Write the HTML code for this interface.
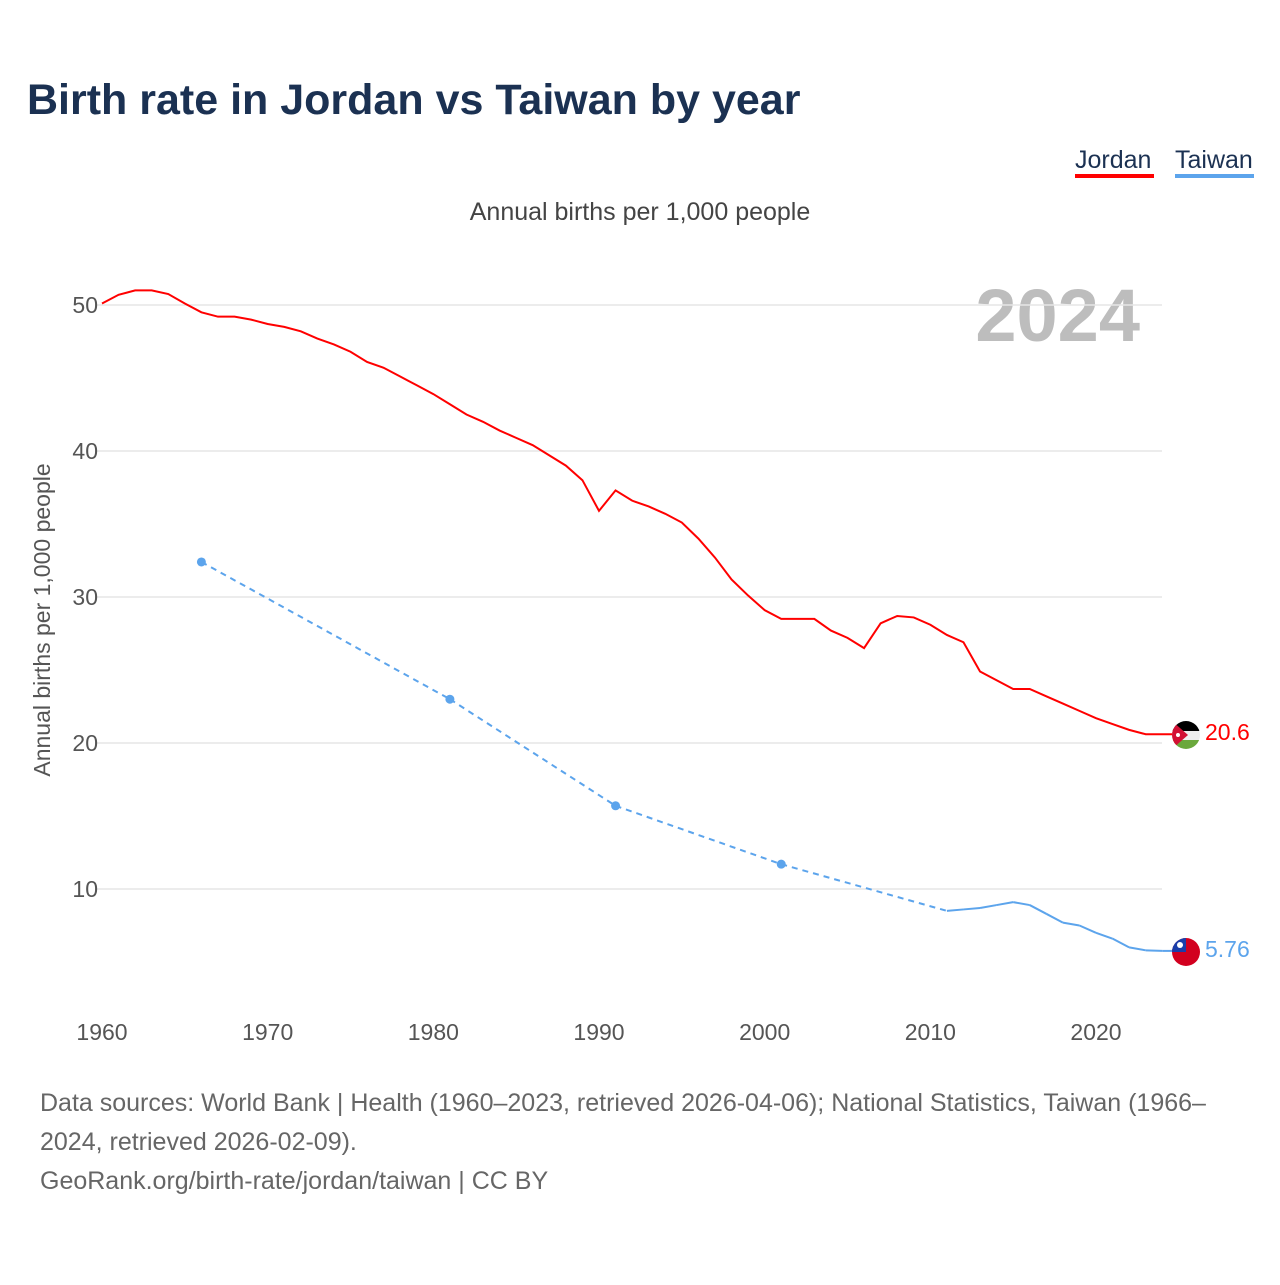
<!DOCTYPE html>
<html><head><meta charset="utf-8"><style>
body{margin:0;background:#fff;font-family:"Liberation Sans",sans-serif;}
#wrap{position:relative;width:1280px;height:1280px;}
</style></head><body>
<div id="wrap">
<svg id="svg" width="1280" height="1280">
<text x="27" y="114" font-size="43" font-weight="bold" fill="#1b3152">Birth rate in Jordan vs Taiwan by year</text>
<g><text x="1075" y="168" font-size="25" fill="#1b3152">Jordan</text><rect x="1075" y="174" width="79" height="4" fill="#ff0000"/></g>
<g><text x="1175" y="168" font-size="25" fill="#1b3152">Taiwan</text><rect x="1175" y="174" width="79" height="4" fill="#5ca4ec"/></g>
<text x="640" y="220" font-size="25" fill="#444" text-anchor="middle">Annual births per 1,000 people</text>
<text x="1140" y="341" font-size="74" font-weight="bold" fill="#bdbdbd" text-anchor="end">2024</text>
<text transform="translate(50,620) rotate(-90)" font-size="23" fill="#555" text-anchor="middle">Annual births per 1,000 people</text>
<g id="grid"></g><g id="marks"></g>
<g>
<clipPath id="cj"><circle cx="1186" cy="735" r="14"/></clipPath>
<g clip-path="url(#cj)"><rect x="1172" y="721" width="28" height="10" fill="#000"/><rect x="1172" y="731" width="28" height="9" fill="#eee"/><rect x="1172" y="740" width="28" height="10" fill="#6aa83c"/><polygon points="1172,721 1188,735 1172,749" fill="#d21034"/><circle cx="1178" cy="735" r="2" fill="#fff"/></g></g>
<g>
<clipPath id="ct"><circle cx="1186" cy="952" r="14"/></clipPath>
<g clip-path="url(#ct)"><rect x="1172" y="938" width="28" height="28" fill="#d2001f"/><rect x="1172" y="938" width="14" height="14" fill="#1a3eaa"/><circle cx="1180" cy="945" r="3" fill="#fff"/></g></g>
<text x="1205" y="740" font-size="23" fill="#ff0000">20.6</text>
<text x="1205" y="957" font-size="23" fill="#5ca4ec">5.76</text>
</svg>
<div style="position:absolute;left:40px;top:1084px;width:1200px;font-size:25px;line-height:39px;color:#666">Data sources: World Bank | Health (1960–2023, retrieved 2026-04-06); National Statistics, Taiwan (1966–2024, retrieved 2026-02-09).<br>GeoRank.org/birth-rate/jordan/taiwan | CC BY</div>
</div>
<script>
const jordanYears=[];for(let y=1960;y<=2023;y++)jordanYears.push(y);
const jordanValues=[50.1,50.7,51.0,51.0,50.75,50.1,49.5,49.2,49.2,49.0,48.7,48.5,48.2,47.7,47.3,46.8,46.1,45.7,45.1,44.5,43.9,43.2,42.5,42.0,41.4,40.9,40.4,39.7,39.0,38.0,35.9,37.3,36.6,36.2,35.7,35.1,34.0,32.7,31.2,30.1,29.1,28.5,28.5,28.5,27.7,27.2,26.5,28.2,28.7,28.6,28.1,27.4,26.9,24.9,24.3,23.7,23.7,23.2,22.7,22.2,21.7,21.3,20.9,20.6];
const taiwanYears=[1966,1981,1991,2001,2011,2012,2013,2014,2015,2016,2017,2018,2019,2020,2021,2022,2023,2024];
const taiwanValues=[32.4,23.0,15.7,11.7,8.5,8.6,8.7,8.9,9.1,8.9,8.3,7.7,7.5,7.0,6.6,6.0,5.8,5.76];
const xTicks=[1960,1970,1980,1990,2000,2010,2020];
const yTicks=[10,20,30,40,50];
const X=y=>102+(y-1960)*994/60;
const Y=v=>889-(v-10)*14.6;
const NS="http://www.w3.org/2000/svg";
const grid=document.getElementById('grid'),marks=document.getElementById('marks');
function mk(tag,attrs,parent){const e=document.createElementNS(NS,tag);for(const k in attrs)e.setAttribute(k,attrs[k]);parent.appendChild(e);return e;}
yTicks.forEach(t=>{
 const l=mk('line',{x1:95,x2:1162,y1:Y(t),y2:Y(t),stroke:'#e6e6e6','stroke-width':1.5},grid);
 
 
 const tx=mk('text',{x:98,y:Y(t)+8,'font-size':23,fill:'#555','text-anchor':'end'},grid);tx.textContent=t;
 
 
});
xTicks.forEach(t=>{
 const tx=mk('text',{x:X(t),y:1040,'font-size':23,fill:'#555','text-anchor':'middle'},grid);tx.textContent=t;
 
 
});
const jp=jordanYears.map((y,i)=>X(y)+','+Y(jordanValues[i])).join(' ');
const jl=mk('polyline',{points:jp+' '+1172+','+Y(jordanValues[jordanValues.length-1]),fill:'none',stroke:'#ff0000','stroke-width':2},marks);


for(let i=1;i<taiwanYears.length;i++){
 const gap=taiwanYears[i]-taiwanYears[i-1]>1;
 const s=mk('line',{x1:X(taiwanYears[i-1]),y1:Y(taiwanValues[i-1]),x2:X(taiwanYears[i]),y2:Y(taiwanValues[i]),stroke:'#5ca4ec','stroke-width':2},marks);
 if(gap)s.setAttribute('stroke-dasharray','6,5');
 
 
}
for(let i=0;i<taiwanYears.length;i++){
 const sparse=(i<taiwanYears.length-1&&taiwanYears[i+1]-taiwanYears[i]>1);
 if(sparse){const c=mk('circle',{cx:X(taiwanYears[i]),cy:Y(taiwanValues[i]),r:4.5,fill:'#5ca4ec'},marks);
 
 }
}
const te=mk('line',{x1:X(2024),y1:Y(5.76),x2:1172,y2:Y(5.76),stroke:'#5ca4ec','stroke-width':2},marks);


</script>
</body></html>
